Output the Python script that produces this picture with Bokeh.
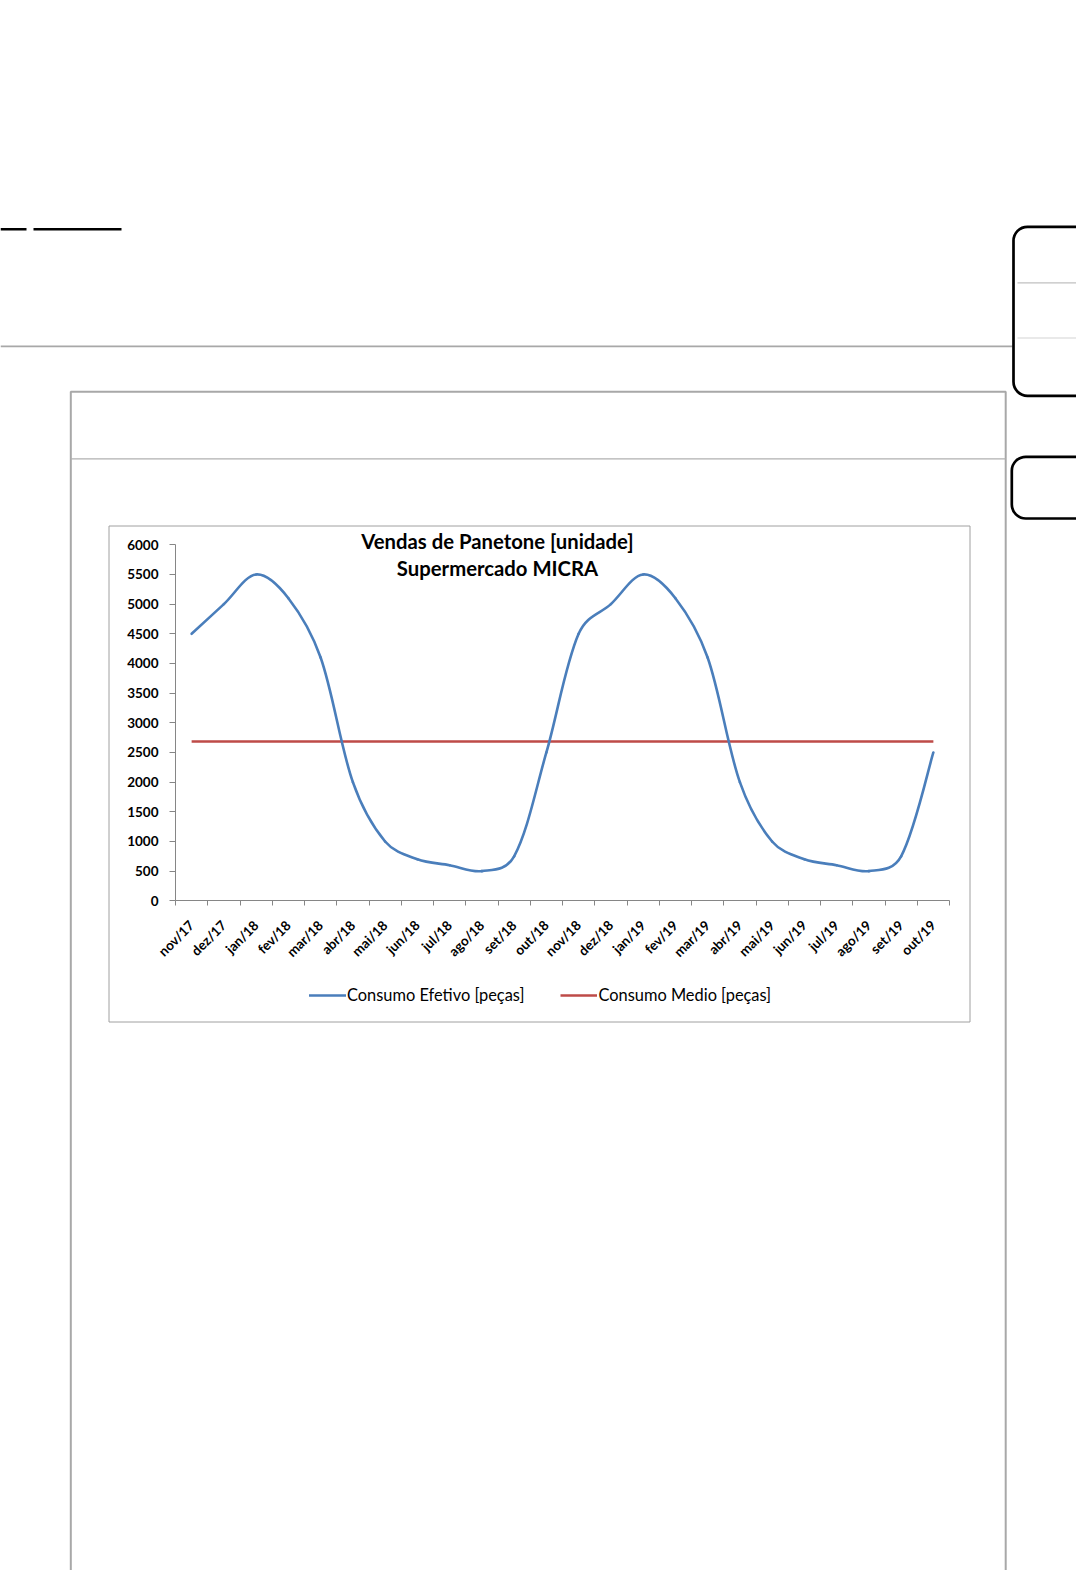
import math
import numpy as np
from bokeh.plotting import figure
from bokeh.models import Range1d, FixedTicker, Label, Legend, LegendItem
from bokeh.embed import file_html
from bokeh.resources import INLINE

# ---------------- data ----------------
meses = ["nov/17", "dez/17", "jan/18", "fev/18", "mar/18", "abr/18", "mai/18", "jun/18",
         "jul/18", "ago/18", "set/18", "out/18", "nov/18", "dez/18", "jan/19", "fev/19",
         "mar/19", "abr/19", "mai/19", "jun/19", "jul/19", "ago/19", "set/19", "out/19"]
consumo_efetivo = [4500, 5000, 5500, 5100, 4100, 2000, 1000, 700, 600, 500, 750, 2500,
                   4500, 5000, 5500, 5100, 4100, 2000, 1000, 700, 600, 500, 750, 2500]
consumo_medio = 2685
y_ticks = [0, 500, 1000, 1500, 2000, 2500, 3000, 3500, 4000, 4500, 5000, 5500, 6000]
y_max = 6000
titulo = ["Vendas de Panetone [unidade]", "Supermercado MICRA"]
serie_nomes = ["Consumo Efetivo [peças]", "Consumo Medio [peças]"]

BLUE = "#4a7ebb"
RED = "#be4b48"
AXIS = "#868686"
FONT = "Lato"

# ---------------- page / plot geometry (pixels) ----------------
W, H = 1076, 1570
plot_left, plot_right = 175.0, 949.0      # x-axis extent on the page
plot_top, plot_bottom = 544.3, 900.3      # 6000 and 0 on the page
n = len(meses)
ux = (plot_right - plot_left) / n
uy = (plot_bottom - plot_top) / y_max
x_range = Range1d(-plot_left / ux, (W - plot_left) / ux)
y_range = Range1d(-(H - plot_bottom) / uy, y_max + plot_top / uy)

p = figure(width=W, height=H, x_range=x_range, y_range=y_range,
           toolbar_location=None, output_backend="svg", min_border=0)
p.extra_x_ranges = {"page": Range1d(0, W)}
p.extra_y_ranges = {"page": Range1d(H, 0)}
p.outline_line_color = None
p.grid.visible = False
p.background_fill_color = "white"
p.border_fill_color = "white"

# ---------------- page decoration (page pixel coordinates) ----------------
pg = dict(x_range_name="page", y_range_name="page")
p.segment(x0=[0, 33], y0=[228.8, 228.8], x1=[26, 121], y1=[228.8, 228.8],
          line_color="black", line_width=2.4, **pg)
p.segment(x0=[0], y0=[345.8], x1=[1012], y1=[345.8], line_color="#a8a8a8", line_width=1.7, **pg)
p.quad(left=[70.3], right=[1005.2], top=[391.3], bottom=[1700], fill_color=None,
       line_color="#a8a8a8", line_width=2, **pg)
p.segment(x0=[70.3], y0=[458.3], x1=[1005.2], y1=[458.3], line_color="#b0b0b0", line_width=1.3, **pg)
p.quad(left=[1013], right=[1200], top=[226.3], bottom=[395.3], fill_color=None,
       line_color="black", line_width=2.7, border_radius=14, **pg)
p.segment(x0=[1017], y0=[282.3], x1=[1100], y1=[282.3], line_color="#c0c0c0", line_width=1.3, **pg)
p.segment(x0=[1017], y0=[337.5], x1=[1100], y1=[337.5], line_color="#d4d4d4", line_width=1.2, **pg)
p.quad(left=[1011.3], right=[1200], top=[456.3], bottom=[518], fill_color=None,
       line_color="black", line_width=2.7, border_radius=14, **pg)
p.quad(left=[108.5], right=[969.5], top=[525.5], bottom=[1021.5], fill_color="white",
       line_color="#a0a0a0", line_width=1, **pg)

# ---------------- chart ----------------
xs = np.arange(n) + 0.5
ys = np.array(consumo_efetivo, dtype=float)

# smoothed line: bezier segments, tangents blended between uniform and chord-weighted
px, py = xs * ux, ys * uy   # pixel-space copies used only for distances
def dist(a, b):
    return math.hypot(px[b] - px[a], py[b] - py[a])

bx0, by0, bx1, by1, cx0, cy0, cx1, cy1 = [], [], [], [], [], [], [], []
for i in range(n - 1):
    j = i + 1
    i0 = max(i - 1, 0)
    j1 = min(j + 1, n - 1)
    d_prev, d_cur, d_next = dist(i0, i), dist(i, j), dist(j, j1)
    f1 = 0.5 / 6.0 + 0.5 * d_cur / (d_prev + d_cur) / 3.0 if i > 0 else 1.0 / 6.0
    f2 = 0.5 / 6.0 + 0.5 * d_cur / (d_cur + d_next) / 3.0 if j < n - 1 else 1.0 / 6.0
    bx0.append(xs[i]); by0.append(ys[i])
    bx1.append(xs[j]); by1.append(ys[j])
    cx0.append(xs[i] + (xs[j] - xs[i0]) * f1)
    cy0.append(ys[i] + (ys[j] - ys[i0]) * f1)
    cx1.append(xs[j] - (xs[j1] - xs[i]) * f2)
    cy1.append(ys[j] - (ys[j1] - ys[i]) * f2)

r_medio = p.line(xs, [consumo_medio] * n, line_color=RED, line_width=2.6)
r_efet = p.bezier(x0=bx0, y0=by0, x1=bx1, y1=by1, cx0=cx0, cy0=cy0, cx1=cx1, cy1=cy1,
                  line_color=BLUE, line_width=2.6, line_cap="round")

# axes
xa = p.xaxis[0]
xa.fixed_location = 0
xa.bounds = (0, n)
xa.ticker = FixedTicker(ticks=list(xs), minor_ticks=list(range(n + 1)))
xa.major_label_overrides = {float(x): m for x, m in zip(xs, meses)}
xa.major_label_orientation = math.pi / 4
xa.major_tick_out = 0
xa.major_tick_in = 0
xa.minor_tick_out = 5
xa.minor_tick_in = 0
xa.minor_tick_line_color = AXIS
xa.axis_line_color = AXIS
xa.major_label_standoff = 17
xa.major_label_text_font = FONT
xa.major_label_text_font_style = "bold"
xa.major_label_text_font_size = "13.5px"
xa.major_label_text_color = "black"

ya = p.yaxis[0]
ya.fixed_location = 0
ya.bounds = (0, y_max)
ya.ticker = FixedTicker(ticks=y_ticks)
ya.minor_tick_line_color = None
ya.major_tick_out = 6
ya.major_tick_in = 0
ya.major_tick_line_color = AXIS
ya.axis_line_color = AXIS
ya.major_label_standoff = 11
ya.major_label_text_font = FONT
ya.major_label_text_font_style = "bold"
ya.major_label_text_font_size = "13.5px"
ya.major_label_text_color = "black"

# title (two lines inside the chart)
for txt, vy in zip(titulo, [1029.2, 1002.5]):
    p.add_layout(Label(x=497, y=vy, x_units="screen", y_units="screen", text=txt,
                       text_align="center", text_baseline="alphabetic",
                       text_font=FONT, text_font_style="bold", text_font_size="20.3px",
                       text_color="black"))

# legend below the axis labels
lg = Legend(items=[LegendItem(label=serie_nomes[0], renderers=[r_efet]),
                   LegendItem(label=serie_nomes[1], renderers=[r_medio])],
            location=(309, 565.5), orientation="horizontal", glyph_width=37, glyph_height=20,
            label_height=20, label_standoff=1, padding=0, margin=0, spacing=36,
            border_line_color=None, background_fill_alpha=0,
            label_text_font=FONT, label_text_font_size="16.4px", label_text_color="black")
p.add_layout(lg, "center")

open("out.html", "w").write(file_html(p, INLINE))
